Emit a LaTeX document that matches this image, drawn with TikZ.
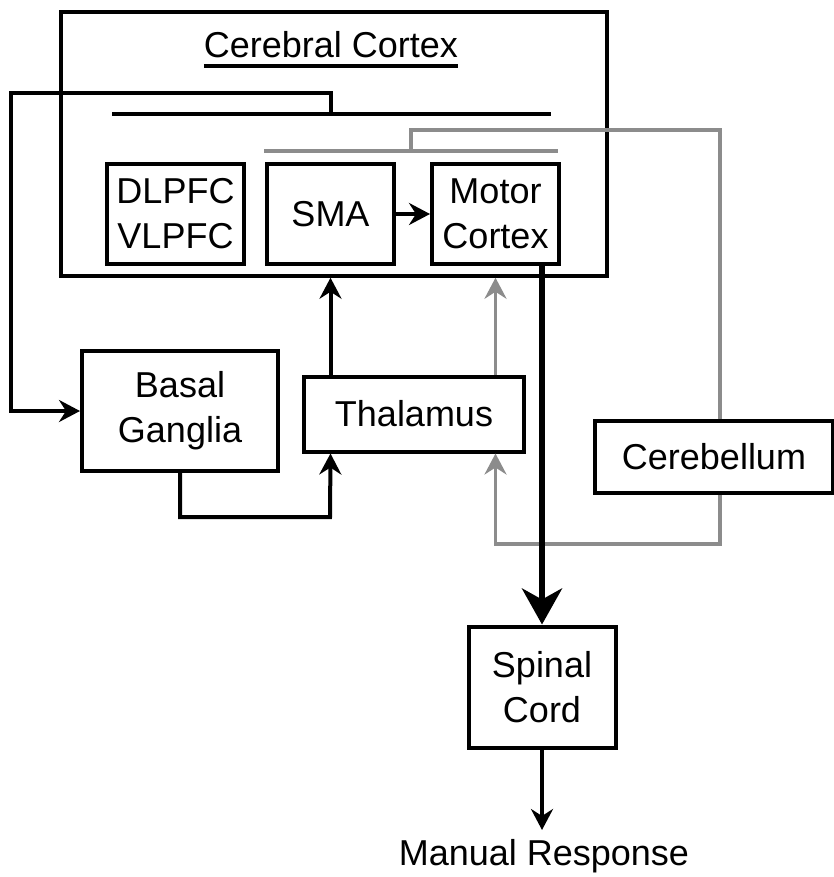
\documentclass[tikz,border=0pt]{standalone}
\usepackage{fontspec}
\setmainfont{Liberation Sans}
\usetikzlibrary{arrows.meta}
\definecolor{linegray}{RGB}{140,140,140}
\begin{document}
\begin{tikzpicture}[x=1pt,y=-1pt,
  box/.style={draw, line width=4pt, align=center, inner sep=0pt,
    font=\fontsize{36}{45}\selectfont},
  bigbox/.style={draw, line width=3.5pt, inner sep=0pt},
  conn/.style={line width=4pt},
  gconn/.style={line width=3.5pt, draw=linegray},
  arr/.style={-{Stealth[length=21pt,width=22pt,inset=7pt]}},
  garr/.style={-{Stealth[length=21pt,width=22pt,inset=7pt]}, draw=linegray},
  thick arr/.style={line width=6pt, -{Stealth[length=36pt,width=40pt,inset=11pt]}},
  lbl/.style={inner sep=0pt, font=\fontsize{36}{45}\selectfont}
]
\useasboundingbox (0,0) rectangle (833,877);

% nodes
\node[bigbox, minimum width=546pt, minimum height=264pt] (cortex) at (334,144) {};
\node[lbl, anchor=base] (title) at (331,58) {Cerebral Cortex};
\draw[line width=4pt] ([yshift=-8pt]title.base west) -- ([yshift=-8pt]title.base east);

\node[box, minimum width=137pt, minimum height=100pt] (dlpfc) at (175.5,214) {DLPFC\\VLPFC};
\node[box, minimum width=127pt, minimum height=100pt] (sma) at (330.5,214) {SMA};
\node[box, minimum width=127pt, minimum height=100pt] (motor) at (495.5,214) {Motor\\Cortex};
\node[box, minimum width=196pt, minimum height=120pt] (basal) at (180,411) {Basal\\Ganglia};
\node[box, minimum width=220pt, minimum height=75pt] (thal) at (414,414) {Thalamus};
\node[box, minimum width=238pt, minimum height=72pt] (cereb) at (714,457) {Cerebellum};
\node[box, minimum width=147pt, minimum height=121pt] (spinal) at (542,687) {Spinal\\Cord};
\node[lbl, inner ysep=9pt, anchor=north] (resp) at (544,830) {Manual Response};

% coordinates
\coordinate (bbarL) at (112,114);
\coordinate (bbarR) at (551,114);
\coordinate (bbarM) at (331,114);
\coordinate (bk2) at (11,93);
\coordinate (gbarL) at (264,151);
\coordinate (gbarR) at (558,151);
\coordinate (gbarM) at (411,151);
\coordinate (gtop) at (411,130);
\coordinate (cbx) at (720,544);
\coordinate (bgjoin) at (330,517);

% black bar and loop to basal ganglia
\draw[conn] (bbarL) -- (bbarR);
\draw[conn, arr] (bbarM) |- (bk2) |- (basal.west);

% gray bar and loop from cerebellum
\draw[gconn] (gbarL) -- (gbarR);
\draw[gconn] (cereb.north -| cbx) |- (gtop) -- (gbarM);

% SMA -> Motor
\draw[conn, arr] (sma) -- (motor);

% thalamus -> cortex
\draw[conn, arr] (thal.north -| sma) -- (cortex.south -| sma);
\draw[gconn, garr] (thal.north -| motor) -- (cortex.south -| motor);

% basal ganglia -> thalamus
\draw[conn, arr] (basal.south) |- (bgjoin) -- (thal.south -| sma);

% cerebellum -> thalamus
\draw[gconn, garr] (cereb.south -| cbx) -- (cbx) -| (thal.south -| motor);

% motor cortex -> spinal cord
\draw[thick arr] (motor.south -| spinal) -- (spinal.north);

% spinal cord -> manual response
\draw[conn, arr] (spinal.south) -- (spinal.south |- resp.north);
\end{tikzpicture}
\end{document}
